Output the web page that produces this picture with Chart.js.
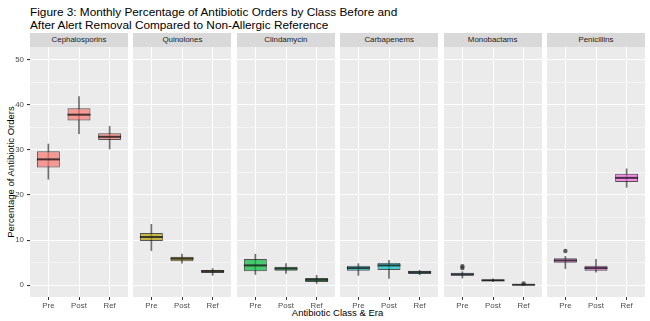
<!DOCTYPE html>
<html>
<head>
<meta charset="utf-8">
<script src="https://cdn.jsdelivr.net/npm/chart.js@4"></script>
<style>
    body { margin: 0; width: 650px; height: 321px; background: #fff; position: relative; overflow: hidden; font-family: 'Liberation Sans', Arial, sans-serif; }
    canvas { position: absolute; }
    .strip { position: absolute; top: 33px; height: 14px; line-height: 14px; background: #D9D9D9; color: #1A1A1A; font-size: 7.9px; text-align: center; }
    #title { position: absolute; left: 30px; top: 6px; font-size: 11.8px; line-height: 13px; color: #000; }
    #xTitle { position: absolute; left: 30px; width: 615px; top: 307px; font-size: 9.5px; text-align: center; color: #000; }
    #yTitle { position: absolute; left: 10px; top: 172px; font-size: 9.5px; color: #000; white-space: nowrap; transform: translate(-50%, -50%) rotate(-90deg); }
</style>
</head>
<body>
<div id="title">Figure 3: Monthly Percentage of Antibiotic Orders by Class Before and<br>After Alert Removal Compared to Non-Allergic Reference</div>
<div id="yTitle">Percentage of Antibiotic Orders</div>
<div id="xTitle">Antibiotic Class &amp; Era</div>
<script>
// =============================
// Data
// =============================

const eras = ['Pre', 'Post', 'Ref'];
const classes = ['Cephalosporins', 'Quinolones', 'Clindamycin', 'Carbapenems', 'Monobactams', 'Penicillins'];
const yTicks = [0, 5, 10, 15, 20, 25, 30, 35, 40, 45, 50];

// one row per class, one value per era
const whiskerLow  = [[23.5, 33.6, 30.2], [7.7, 4.9, 2.2], [2.4, 2.6, 0.4], [2.2, 1.5, 2.3], [1.6, 0.8, 0.0], [3.7, 2.9, 21.7]];
const lowerQ      = [[26.1, 36.5, 32.2], [9.8, 5.3, 2.7], [3.1, 3.2, 0.7], [3.2, 3.4, 2.5], [2.1, 0.9, 0.0], [5.0, 3.2, 22.9]];
const medians     = [[27.9, 37.8, 32.9], [10.7, 5.9, 3.1], [4.4, 3.7, 1.2], [3.8, 4.4, 2.9], [2.4, 1.1, 0.1], [5.5, 3.8, 23.8]];
const upperQ      = [[29.7, 39.2, 33.7], [11.6, 6.3, 3.4], [5.8, 4.1, 1.6], [4.3, 5.0, 3.2], [2.8, 1.3, 0.3], [6.0, 4.35, 24.7]];
const whiskerHigh = [[31.3, 41.8, 35.2], [13.5, 6.9, 3.7], [6.9, 4.8, 2.2], [4.8, 5.5, 3.3], [3.0, 1.4, 0.35], [6.4, 5.75, 25.8]];
// [era index, value]
const outliers = [[], [], [], [], [[0, 4.2], [0, 3.8], [2, 0.4]], [[0, 7.6]]];

const fills = [
    'rgba(248,118,109,0.7)',
    'rgba(183,159,0,0.7)',
    'rgba(0,186,56,0.7)',
    'rgba(0,191,196,0.7)',
    'rgba(97,156,255,0.7)',
    'rgba(245,100,227,0.7)'
];


// =============================
// Panel Layout
// =============================

const PANEL_LEFT = 30;
const PANEL_STEP = 103.4;
const PANEL_W = 98;
const PANEL_TOP = 47;
const PANEL_H = 250;
const AXIS_W = 30;

Chart.defaults.font.family = "'Liberation Sans', Arial, sans-serif";

const panelBackground = {
    id: 'panelBackground',
    beforeDraw(chart) {
        const a = chart.chartArea;
        const ctx = chart.ctx;
        ctx.save();
        ctx.fillStyle = '#EBEBEB';
        ctx.fillRect(a.left, a.top, a.right - a.left, a.bottom - a.top);
        ctx.restore();
    }
};

function medianLines(idx) {
    return {
        id: 'medianLines',
        afterDatasetsDraw(chart) {
            const meta = chart.getDatasetMeta(1);
            const y = chart.scales.y;
            const ctx = chart.ctx;
            ctx.save();
            ctx.strokeStyle = 'rgba(25,25,25,0.8)';
            ctx.lineWidth = 2;
            meta.data.forEach((bar, j) => {
                const py = y.getPixelForValue(medians[idx][j]);
                ctx.beginPath();
                ctx.moveTo(bar.x - bar.width / 2, py);
                ctx.lineTo(bar.x + bar.width / 2, py);
                ctx.stroke();
            });
            ctx.restore();
        }
    };
}

function noPadding(s) {
    s.paddingTop = 0;
    s.paddingBottom = 0;
    s.paddingLeft = 0;
    s.paddingRight = 0;
}

function createPanel(idx) {
    const first = idx === 0;
    const panelX = PANEL_LEFT + idx * PANEL_STEP;

    const strip = document.createElement('div');
    strip.className = 'strip';
    strip.style.left = panelX + 'px';
    strip.style.width = PANEL_W + 'px';
    strip.innerText = classes[idx];
    document.body.appendChild(strip);

    const canvas = document.createElement('canvas');
    canvas.width = PANEL_W + (first ? AXIS_W : 0);
    canvas.height = PANEL_H + 15;
    canvas.style.left = (panelX - (first ? AXIS_W : 0)) + 'px';
    canvas.style.top = PANEL_TOP + 'px';
    document.body.appendChild(canvas);

    return new Chart(canvas, {
        type: 'bar',
        data: {
            datasets: [{
                // whiskers
                data: eras.map((e, j) => ({ x: j + 1, y: [whiskerLow[idx][j], whiskerHigh[idx][j]] })),
                backgroundColor: 'rgba(51,51,51,0.7)',
                barThickness: 1,
                grouped: false,
                order: 3
            }, {
                // boxes
                data: eras.map((e, j) => ({ x: j + 1, y: [lowerQ[idx][j], upperQ[idx][j]] })),
                backgroundColor: fills[idx],
                borderColor: 'rgba(30,30,30,0.75)',
                borderWidth: 1,
                borderSkipped: false,
                barPercentage: 0.75,
                categoryPercentage: 1,
                grouped: false,
                order: 2
            }, {
                type: 'scatter',
                data: outliers[idx].map(o => ({ x: o[0] + 1, y: o[1] })),
                backgroundColor: 'rgba(51,51,51,0.8)',
                borderWidth: 0,
                pointRadius: 2.2,
                order: 1
            }]
        },
        options: {
            responsive: false,
            animation: false,
            events: [],
            layout: { padding: 0, autoPadding: false },
            plugins: {
                legend: { display: false },
                tooltip: { enabled: false }
            },
            scales: {
                x: {
                    type: 'linear',
                    offset: false,
                    min: 0.4,
                    max: 3.6,
                    afterBuildTicks: s => { s.ticks = eras.map((e, j) => ({ value: j + 1 })); },
                    afterFit: s => { s.height = 15; noPadding(s); },
                    border: { display: false },
                    grid: { color: '#FFFFFF', lineWidth: 1, tickColor: '#333333', tickLength: 3, offset: false },
                    ticks: {
                        callback: v => eras[v - 1],
                        color: '#4D4D4D',
                        font: { size: 7.9 },
                        padding: 1,
                        maxRotation: 0,
                        autoSkip: false
                    }
                },
                y: {
                    min: -2.6,
                    max: 52.8,
                    afterBuildTicks: s => { s.ticks = yTicks.map(v => ({ value: v })); },
                    afterFit: s => { s.width = first ? AXIS_W : 0; noPadding(s); },
                    border: { display: false },
                    grid: {
                        color: '#FFFFFF',
                        lineWidth: c => (c.tick && c.tick.value % 10 === 0) ? 1.1 : 0.5,
                        tickColor: c => (c.tick && c.tick.value % 10 === 0) ? '#333333' : 'rgba(0,0,0,0)',
                        tickLength: 3,
                        drawTicks: first
                    },
                    ticks: {
                        display: first,
                        callback: v => v % 10 === 0 ? v : '',
                        color: '#4D4D4D',
                        font: { size: 7.9 },
                        padding: 3,
                        autoSkip: false
                    }
                }
            }
        },
        plugins: [panelBackground, medianLines(idx)]
    });
}

const panels = classes.map((c, i) => createPanel(i));
</script>
</body>
</html>
